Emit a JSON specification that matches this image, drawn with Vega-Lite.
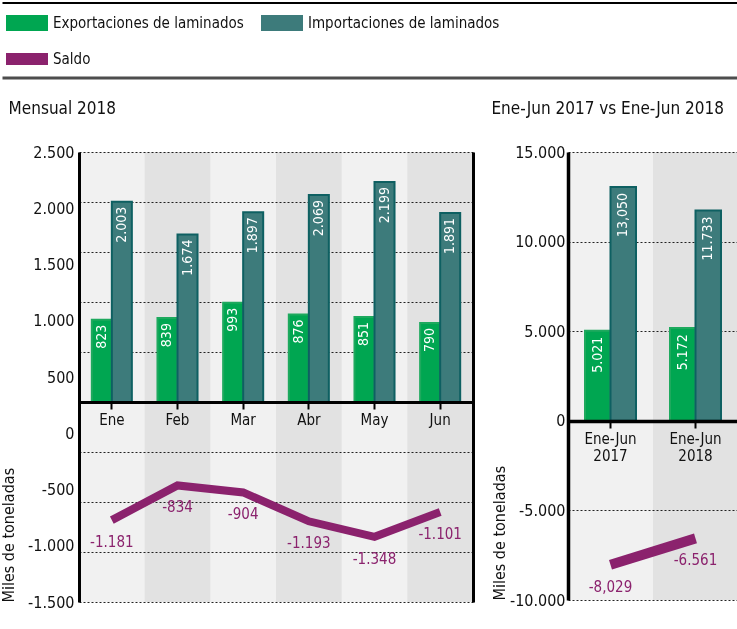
{
  "$schema": "https://vega.github.io/schema/vega-lite/v6.json",
  "padding": {"left": 0, "top": 2, "right": 0, "bottom": 0},
  "background": "white",
  "datasets": {
    "mensual": [
      {"mes": "Ene", "serie": "Exportaciones de laminados", "valor": 823, "etiqueta": "823"},
      {"mes": "Ene", "serie": "Importaciones de laminados", "valor": 2003, "etiqueta": "2.003"},
      {"mes": "Ene", "serie": "Saldo", "valor": -1181, "etiqueta": "-1.181"},
      {"mes": "Feb", "serie": "Exportaciones de laminados", "valor": 839, "etiqueta": "839"},
      {"mes": "Feb", "serie": "Importaciones de laminados", "valor": 1674, "etiqueta": "1.674"},
      {"mes": "Feb", "serie": "Saldo", "valor": -834, "etiqueta": "-834"},
      {"mes": "Mar", "serie": "Exportaciones de laminados", "valor": 993, "etiqueta": "993"},
      {"mes": "Mar", "serie": "Importaciones de laminados", "valor": 1897, "etiqueta": "1.897"},
      {"mes": "Mar", "serie": "Saldo", "valor": -904, "etiqueta": "-904"},
      {"mes": "Abr", "serie": "Exportaciones de laminados", "valor": 876, "etiqueta": "876"},
      {"mes": "Abr", "serie": "Importaciones de laminados", "valor": 2069, "etiqueta": "2.069"},
      {"mes": "Abr", "serie": "Saldo", "valor": -1193, "etiqueta": "-1.193"},
      {"mes": "May", "serie": "Exportaciones de laminados", "valor": 851, "etiqueta": "851"},
      {"mes": "May", "serie": "Importaciones de laminados", "valor": 2199, "etiqueta": "2.199"},
      {"mes": "May", "serie": "Saldo", "valor": -1348, "etiqueta": "-1.348"},
      {"mes": "Jun", "serie": "Exportaciones de laminados", "valor": 790, "etiqueta": "790"},
      {"mes": "Jun", "serie": "Importaciones de laminados", "valor": 1891, "etiqueta": "1.891"},
      {"mes": "Jun", "serie": "Saldo", "valor": -1101, "etiqueta": "-1.101"}
    ],
    "semestral": [
      {"periodo": "Ene-Jun 2017", "serie": "Exportaciones de laminados", "valor": 5021, "etiqueta": "5.021"},
      {"periodo": "Ene-Jun 2017", "serie": "Importaciones de laminados", "valor": 13050, "etiqueta": "13,050"},
      {"periodo": "Ene-Jun 2017", "serie": "Saldo", "valor": -8029, "etiqueta": "-8,029"},
      {"periodo": "Ene-Jun 2018", "serie": "Exportaciones de laminados", "valor": 5172, "etiqueta": "5.172"},
      {"periodo": "Ene-Jun 2018", "serie": "Importaciones de laminados", "valor": 11733, "etiqueta": "11.733"},
      {"periodo": "Ene-Jun 2018", "serie": "Saldo", "valor": -6561, "etiqueta": "-6.561"}
    ]
  },
  "spacing": 20,
  "vconcat": [
    {
      "width": 659,
      "height": 75,
      "data": {"values": [{}]},
      "layer": [
        {"mark": {"type": "rule", "color": "#000000", "strokeWidth": 2},
         "encoding": {"x": {"datum": 0, "type": "quantitative", "scale": {"domain": [0, 1], "range": [-76.5, 659]}, "axis": null}, "x2": {"datum": 1},
                      "y": {"datum": 1, "type": "quantitative", "scale": {"domain": [0, 1]}, "axis": null}}},
        {"mark": {"type": "rule", "color": "#4d4d4d", "strokeWidth": 3},
         "encoding": {"x": {"datum": 0, "type": "quantitative", "scale": {"domain": [0, 1], "range": [-76.5, 659]}, "axis": null}, "x2": {"datum": 1},
                      "y": {"datum": 0, "type": "quantitative", "scale": {"domain": [0, 1]}, "axis": null}}}
      ]
    },
    {
      "spacing": 17,
      "resolve": {"scale": {"xOffset": "independent"}},
      "hconcat": [
        {
          "width": 394,
          "height": 450,
          "title": {"text": "Mensual 2018", "anchor": "start", "frame": "bounds", "dx": 8, "offset": 26, "fontSize": 17, "fontWeight": "normal", "color": "#111111"},
          "view": {"fill": "#f1f1f1", "stroke": null},
          "data": {"name": "mensual"},
          "encoding": {
            "x": {"field": "mes", "type": "nominal", "sort": ["Ene", "Feb", "Mar", "Abr", "May", "Jun"],
                  "scale": {"paddingInner": 0, "paddingOuter": 0}, "title": null,
                  "axis": {"offset": -200, "zindex": 1, "domainColor": "#000000", "domainWidth": 3, "tickColor": "#000000", "tickWidth": 2, "tickSize": 7, "labelFontSize": 15, "labelPadding": 3, "labelAngle": 0}}
          },
          "layer": [
            {
              "transform": [{"filter": "datum.serie === 'Saldo'"}],
              "mark": {"type": "rect", "blend": "multiply"},
              "encoding": {"fill": {"condition": {"test": "indexof(['Feb','Abr','Jun'], datum.mes) >= 0", "value": "#f0f0f0"}, "value": "#ffffff"}}
            },
            {
              "transform": [{"filter": "datum.serie === 'Saldo'"}],
              "mark": {"type": "point", "opacity": 0},
              "encoding": {"y": {"datum": 0, "type": "quantitative", "scale": {"domain": [-1500, 2500], "nice": false},
                "axis": {"orient": "left", "values": [-1500, -1000, -500, 0, 500, 1000, 1500, 2000, 2500], "format": ",d", "grid": false, "ticks": false, "domain": true, "domainColor": "#000000", "domainWidth": 3, "labelFontSize": 16, "labelPadding": 5, "title": "Miles de toneladas", "titleFontSize": 16, "titleAnchor": "start", "titlePadding": 11}}}
            },
            {
              "encoding": {"y": {"field": "valor", "type": "quantitative", "scale": {"domain": [-2000, 2500], "nice": false},
                "axis": {"orient": "right", "values": [-2000, -1500, -1000, -500, 0, 500, 1000, 1500, 2000, 2500], "labels": false, "ticks": false, "domain": true, "domainColor": "#000000", "domainWidth": 3, "grid": true, "gridColor": "#222222", "gridDash": [2, 2], "gridWidth": 1, "title": null}}},
              "layer": [
                {
                  "transform": [{"filter": "datum.serie !== 'Saldo'"}],
                  "mark": {"type": "bar", "strokeWidth": 2},
                  "encoding": {
                    "xOffset": {"field": "serie", "type": "nominal", "sort": ["Exportaciones de laminados", "Importaciones de laminados"], "scale": {"paddingInner": 0, "paddingOuter": 0.64}},
                    "color": {"field": "serie", "type": "nominal", "scale": {"domain": ["Exportaciones de laminados", "Importaciones de laminados", "Saldo"], "range": ["#00a651", "#3d7b7b", "#8b226d"]},
                      "legend": {"orient": "none", "legendX": -73, "legendY": -1, "direction": "horizontal", "columns": 2, "title": null, "labelFontSize": 15, "labelLimit": 400, "labelColor": "#111111", "symbolSize": 1600, "symbolType": "M-1,-0.35H1V0.35H-1Z", "columnPadding": 14, "rowPadding": 4, "labelOffset": 5,
                        "encode": {"symbols": {"update": {"shape": {"signal": "datum.value === 'Saldo' ? 'M-1,-0.25H1V0.25H-1Z' : 'M-1,-0.35H1V0.35H-1Z'"}, "fill": {"scale": "color", "field": "value"}, "stroke": {"signal": "datum.value === 'Importaciones de laminados' ? '#0e6062' : 'transparent'"}, "strokeWidth": {"value": 2}, "opacity": {"value": 1}}}}}},
                    "stroke": {"condition": {"test": "datum.serie === 'Importaciones de laminados'", "value": "#0e6062"}, "value": "#1ea95e"}
                  }
                },
                {
                  "transform": [{"filter": "datum.serie !== 'Saldo'"}],
                  "mark": {"type": "text", "angle": 270, "align": "right", "baseline": "middle", "dx": -5, "fontSize": 14, "color": "#ffffff"},
                  "encoding": {
                    "xOffset": {"field": "serie", "type": "nominal", "sort": ["Exportaciones de laminados", "Importaciones de laminados"], "scale": {"paddingInner": 0, "paddingOuter": 0.64}},
                    "text": {"field": "etiqueta"}
                  }
                },
                {
                  "transform": [{"filter": "datum.serie === 'Saldo'"}],
                  "mark": {"type": "line", "strokeWidth": 8, "strokeCap": "butt", "strokeJoin": "miter"},
                  "encoding": {
                    "color": {"field": "serie", "type": "nominal", "scale": {"domain": ["Exportaciones de laminados", "Importaciones de laminados", "Saldo"], "range": ["#00a651", "#3d7b7b", "#8b226d"]},
                      "legend": {"orient": "none", "legendX": -73, "legendY": -1, "direction": "horizontal", "columns": 2, "title": null, "labelFontSize": 15, "labelLimit": 400, "labelColor": "#111111", "symbolSize": 1600, "symbolType": "M-1,-0.35H1V0.35H-1Z", "columnPadding": 14, "rowPadding": 4, "labelOffset": 5,
                        "encode": {"symbols": {"update": {"shape": {"signal": "datum.value === 'Saldo' ? 'M-1,-0.25H1V0.25H-1Z' : 'M-1,-0.35H1V0.35H-1Z'"}, "fill": {"scale": "color", "field": "value"}, "stroke": {"signal": "datum.value === 'Importaciones de laminados' ? '#0e6062' : 'transparent'"}, "strokeWidth": {"value": 2}, "opacity": {"value": 1}}}}}}
                  }
                },
                {
                  "transform": [{"filter": "datum.serie === 'Saldo'"}],
                  "mark": {"type": "text", "dy": 22, "fontSize": 15, "color": "#8b226d"},
                  "encoding": {"text": {"field": "etiqueta"}}
                }
              ]
            }
          ],
          "resolve": {"scale": {"y": "independent"}}
        },
        {
          "width": 170,
          "height": 448,
          "title": {"text": "Ene-Jun 2017 vs Ene-Jun 2018", "anchor": "start", "frame": "bounds", "offset": 26, "fontSize": 17, "fontWeight": "normal", "color": "#111111"},
          "view": {"fill": "#f1f1f1", "stroke": null},
          "data": {"name": "semestral"},
          "encoding": {
            "x": {"field": "periodo", "type": "nominal", "sort": ["Ene-Jun 2017", "Ene-Jun 2018"],
                  "scale": {"paddingInner": 0, "paddingOuter": 0}, "title": null,
                  "axis": {"offset": -179, "zindex": 1, "domainColor": "#000000", "domainWidth": 3.5, "tickColor": "#000000", "tickWidth": 2, "tickSize": 7, "labelFontSize": 15, "labelPadding": 3, "labelAngle": 0, "labelExpr": "split(datum.label, ' ')", "labelLineHeight": 17}},
            "y": {"field": "valor", "type": "quantitative", "scale": {"domain": [-10000, 15000], "nice": false},
                  "axis": {"orient": "left", "values": [-10000, -5000, 0, 5000, 10000, 15000], "format": ",d", "grid": true, "gridColor": "#222222", "gridDash": [2, 2], "gridWidth": 1, "ticks": false, "domain": true, "domainColor": "#000000", "domainWidth": 3.5, "labelFontSize": 16, "labelPadding": 3, "title": "Miles de toneladas", "titleFontSize": 16, "titleAnchor": "start", "titlePadding": 2}}
          },
          "layer": [
            {
              "transform": [{"filter": "datum.serie === 'Saldo'"}],
              "mark": {"type": "rect", "blend": "multiply"},
              "encoding": {"y": null, "fill": {"condition": {"test": "datum.periodo === 'Ene-Jun 2018'", "value": "#f0f0f0"}, "value": "#ffffff"}}
            },
            {
              "transform": [{"filter": "datum.serie !== 'Saldo'"}],
              "mark": {"type": "bar", "strokeWidth": 2},
              "encoding": {
                "xOffset": {"field": "serie", "type": "nominal", "sort": ["Exportaciones de laminados", "Importaciones de laminados"], "scale": {"paddingInner": 0, "paddingOuter": 0.667}},
                "color": {"field": "serie", "type": "nominal", "scale": {"domain": ["Exportaciones de laminados", "Importaciones de laminados", "Saldo"], "range": ["#00a651", "#3d7b7b", "#8b226d"]},
                  "legend": {"orient": "none", "legendX": -73, "legendY": -1, "direction": "horizontal", "columns": 2, "title": null, "labelFontSize": 15, "labelLimit": 400, "labelColor": "#111111", "symbolSize": 1600, "symbolType": "M-1,-0.35H1V0.35H-1Z", "columnPadding": 14, "rowPadding": 4, "labelOffset": 5,
                    "encode": {"symbols": {"update": {"shape": {"signal": "datum.value === 'Saldo' ? 'M-1,-0.25H1V0.25H-1Z' : 'M-1,-0.35H1V0.35H-1Z'"}, "fill": {"scale": "color", "field": "value"}, "stroke": {"signal": "datum.value === 'Importaciones de laminados' ? '#0e6062' : 'transparent'"}, "strokeWidth": {"value": 2}, "opacity": {"value": 1}}}}}},
                "stroke": {"condition": {"test": "datum.serie === 'Importaciones de laminados'", "value": "#0e6062"}, "value": "#1ea95e"}
              }
            },
            {
              "transform": [{"filter": "datum.serie !== 'Saldo'"}],
              "mark": {"type": "text", "angle": 270, "align": "right", "baseline": "middle", "dx": -6, "fontSize": 14, "color": "#ffffff"},
              "encoding": {
                "xOffset": {"field": "serie", "type": "nominal", "sort": ["Exportaciones de laminados", "Importaciones de laminados"], "scale": {"paddingInner": 0, "paddingOuter": 0.667}},
                "text": {"field": "etiqueta"}
              }
            },
            {
              "transform": [{"filter": "datum.serie === 'Saldo'"}],
              "mark": {"type": "line", "strokeWidth": 10, "strokeCap": "butt"},
              "encoding": {
                "color": {"field": "serie", "type": "nominal", "scale": {"domain": ["Exportaciones de laminados", "Importaciones de laminados", "Saldo"], "range": ["#00a651", "#3d7b7b", "#8b226d"]},
                  "legend": {"orient": "none", "legendX": -73, "legendY": -1, "direction": "horizontal", "columns": 2, "title": null, "labelFontSize": 15, "labelLimit": 400, "labelColor": "#111111", "symbolSize": 1600, "symbolType": "M-1,-0.35H1V0.35H-1Z", "columnPadding": 14, "rowPadding": 4, "labelOffset": 5,
                    "encode": {"symbols": {"update": {"shape": {"signal": "datum.value === 'Saldo' ? 'M-1,-0.25H1V0.25H-1Z' : 'M-1,-0.35H1V0.35H-1Z'"}, "fill": {"scale": "color", "field": "value"}, "stroke": {"signal": "datum.value === 'Importaciones de laminados' ? '#0e6062' : 'transparent'"}, "strokeWidth": {"value": 2}, "opacity": {"value": 1}}}}}}
              }
            },
            {
              "transform": [{"filter": "datum.serie === 'Saldo'"}],
              "mark": {"type": "text", "dy": 22, "fontSize": 15, "color": "#8b226d"},
              "encoding": {"text": {"field": "etiqueta"}}
            }
          ]
        }
      ]
    }
  ],
  "config": {
    "font": "'DejaVu Sans Condensed', sans-serif",
    "view": {"stroke": null},
    "axis": {"labelColor": "#111111", "titleColor": "#111111", "titleFontWeight": "normal"},
    "locale": {"number": {"decimal": ",", "thousands": ".", "grouping": [3], "currency": ["", ""], "minus": "-"}}
  }
}
